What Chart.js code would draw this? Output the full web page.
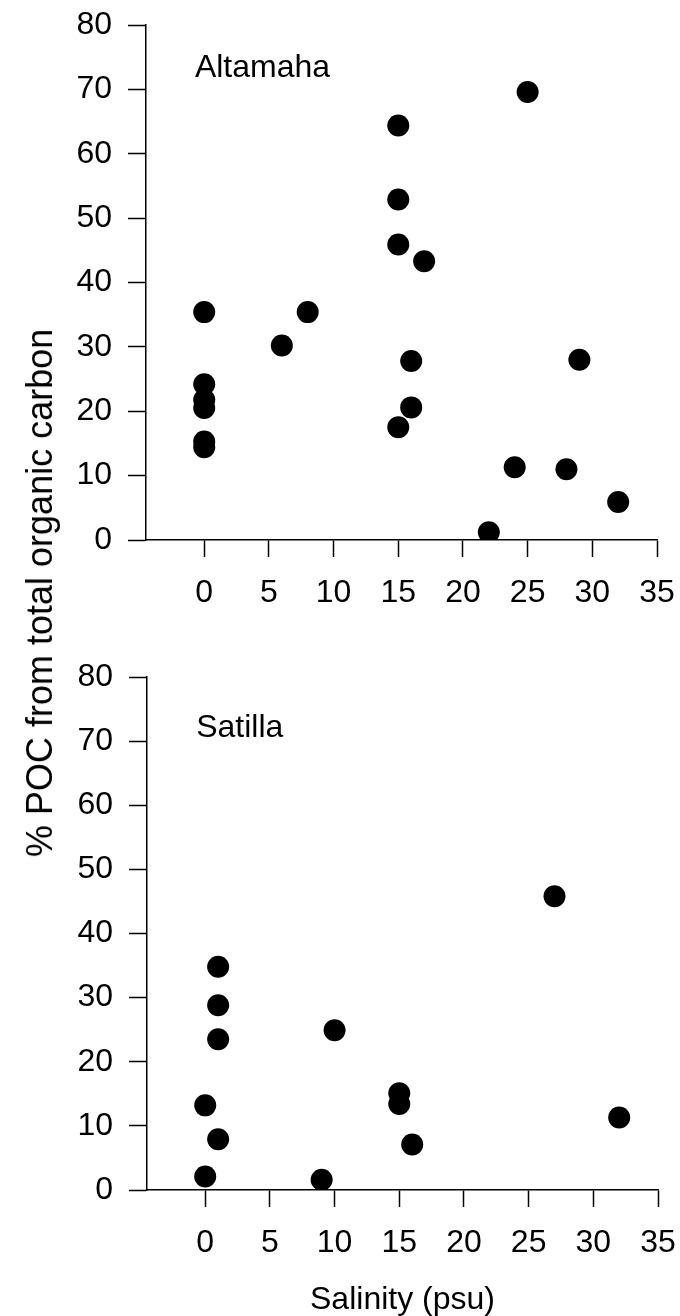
<!DOCTYPE html>
<html>
<head>
<meta charset="utf-8">
<script src="https://cdn.jsdelivr.net/npm/chart.js@4.4.1/dist/chart.umd.min.js"></script>
<style>
html,body{margin:0;padding:0;background:#fff;}
#wrap{position:relative;width:680px;height:1316px;overflow:hidden;background:#fff;}
#c1{position:absolute;left:0;top:0;width:680px;height:640px;}
#c2{position:absolute;left:0;top:640px;width:680px;height:676px;}
#ytitle{position:absolute;left:40px;top:593px;transform:translate(-50%,-50%) rotate(-90deg);font-family:'Liberation Sans',Arial,sans-serif;font-size:36px;white-space:nowrap;color:#000;line-height:1;}
</style>
</head>
<body>
<div id="wrap">
<canvas id="c1" width="680" height="640"></canvas>
<canvas id="c2" width="680" height="676"></canvas>
<div id="ytitle">% POC from total organic carbon</div>
</div>
<script>
// ---- data ----
const altamahaSalinity = [0, 0, 0, 0, 0, 0, 6, 8, 15, 15, 15, 15, 16, 16, 17, 22, 24, 25, 28, 29, 32];
const altamahaPOC      = [35.4, 24.2, 21.8, 20.5, 15.3, 14.4, 30.2, 35.4, 64.4, 52.9, 45.9, 17.5, 27.8, 20.6, 43.3, 1.2, 11.3, 69.6, 11.0, 28.0, 5.9];
const satillaSalinity  = [0, 0, 1, 1, 1, 1, 9, 10, 15, 15, 16, 27, 32];
const satillaPOC       = [13.2, 2.1, 34.8, 28.8, 23.5, 7.9, 1.6, 24.9, 15.1, 13.4, 7.1, 45.8, 11.3];
const xTickValues = [0, 5, 10, 15, 20, 25, 30, 35];
const yTickValues = [0, 10, 20, 30, 40, 50, 60, 70, 80];
const panelNames = ['Altamaha', 'Satilla'];
const xAxisTitle = 'Salinity (psu)';

const FONT = "'Liberation Sans', Arial, sans-serif";

const panelLabel = {
  id: 'panelLabel',
  afterDraw(chart, args, opts) {
    const {ctx, scales: {x, y}} = chart;
    ctx.save();
    ctx.font = '32px ' + FONT;
    ctx.fillStyle = '#000';
    ctx.textAlign = 'left';
    ctx.textBaseline = 'alphabetic';
    ctx.fillText(opts.text, x.getPixelForValue(opts.x), y.getPixelForValue(opts.y));
    ctx.restore();
  }
};

function makeChart(canvasId, xs, ys, cfg) {
  const pts = xs.map((v, i) => ({x: v, y: ys[i]}));
  return new Chart(document.getElementById(canvasId), {
    type: 'scatter',
    data: {datasets: [{data: pts, backgroundColor: '#000', borderWidth: 0, pointRadius: 11, pointHoverRadius: 11}]},
    plugins: [panelLabel],
    options: {
      responsive: false,
      animation: false,
      devicePixelRatio: 1,
      layout: {padding: cfg.padding},
      plugins: {
        legend: {display: false},
        tooltip: {enabled: false},
        panelLabel: cfg.label
      },
      scales: {
        x: {
          type: 'linear', min: -4.5, max: 35,
          afterBuildTicks: s => { s.ticks = xTickValues.map(v => ({value: v})); },
          afterFit: s => { s.height = cfg.xHeight; s.paddingLeft = 0; s.paddingRight = 0; },
          grid: {display: true, drawOnChartArea: false, drawTicks: true, tickLength: 17, tickColor: '#000', tickWidth: 1.5},
          border: {display: true, color: '#000', width: 1.5},
          ticks: {color: '#000', font: {family: FONT, size: 32}, padding: 17, maxRotation: 0, autoSkip: false},
          title: cfg.xTitle ? {display: true, text: cfg.xTitle, color: '#000', font: {family: FONT, size: 32, lineHeight: 1}, padding: {top: 0, bottom: 0}} : {display: false}
        },
        y: {
          type: 'linear', min: 0, max: 80,
          afterBuildTicks: s => { s.ticks = yTickValues.map(v => ({value: v})); },
          afterFit: s => { s.width = cfg.yWidth; s.paddingTop = 0; s.paddingBottom = 0; },
          grid: {display: true, drawOnChartArea: false, drawTicks: true, tickLength: 18, tickColor: '#000', tickWidth: 1.5},
          border: {display: true, color: '#000', width: 1.5},
          ticks: {color: '#000', font: {family: FONT, size: 32}, padding: 16, autoSkip: false}
        }
      }
    }
  });
}

makeChart('c1', altamahaSalinity, altamahaPOC, {
  padding: {top: 25, right: 23, left: 0, bottom: 0},
  xHeight: 100, yWidth: 146,
  label: {text: panelNames[0], x: -0.72, y: 71.9}
});
makeChart('c2', satillaSalinity, satillaPOC, {
  padding: {top: 37, right: 22, left: 0, bottom: 0},
  xHeight: 126, yWidth: 147,
  xTitle: xAxisTitle,
  label: {text: panelNames[1], x: -0.7, y: 70.7}
});
</script>
</body>
</html>
